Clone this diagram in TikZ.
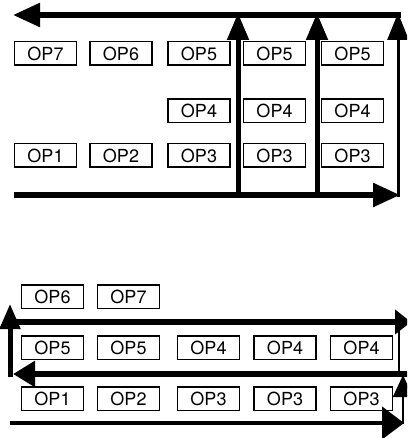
\documentclass[tikz,border=0pt]{standalone}
\usepackage{fontspec}
\setmainfont{TeX Gyre Heros}
\usetikzlibrary{arrows.meta}
\begin{document}
\begin{tikzpicture}[x=1pt,y=-1pt,
  opbox/.style={draw, line width=1.5pt, minimum width=62pt, minimum height=23.5pt, inner sep=0pt, font=\fontsize{18}{18}\selectfont},
  flow/.style={line width=5.5pt, -{Triangle[length=27pt,width=23pt]}},
  upflow/.style={line width=5pt, -{Triangle[length=27pt,width=21pt]}},
  thinline/.style={line width=1.8pt}]
\clip (0,0) rectangle (407,438);
% ---------- top diagram ----------
\node[opbox] (a7) at (45.5,53.5) {OP7};
\node[opbox] (a6) at (121,53.5) {OP6};
\node[opbox] (a5a) at (199,53.5) {OP5};
\node[opbox] (a5b) at (274.5,53.5) {OP5};
\node[opbox] (a5c) at (352.5,53.5) {OP5};
\node[opbox] (a4a) at (199,111) {OP4};
\node[opbox] (a4b) at (274.5,111) {OP4};
\node[opbox] (a4c) at (352.5,111) {OP4};
\node[opbox] (a1) at (45.5,155.5) {OP1};
\node[opbox] (a2) at (121,155.5) {OP2};
\node[opbox] (a3a) at (199,155.5) {OP3};
\node[opbox] (a3b) at (274.5,155.5) {OP3};
\node[opbox] (a3c) at (352.5,155.5) {OP3};
\coordinate (tR) at (401,15);
\coordinate (tL) at (13,15);
\coordinate (bL) at (14,195);
\coordinate (bR) at (400,195);
\coordinate (v1b) at (238,195);
\coordinate (v1t) at (238,13);
\coordinate (v2b) at (317,195);
\coordinate (v2t) at (317,13);
\coordinate (v3b) at (398,197);
\coordinate (v3t) at (398,13);
\draw[flow] (tR) -- (tL);
\draw[flow] (bL) -- (bR);
\draw[upflow] (v1b) -- (v1t);
\draw[upflow] (v2b) -- (v2t);
\draw[upflow, line width=3pt] (v3b) -- (v3t);
% ---------- bottom diagram ----------
\node[opbox] (c6) at (52.5,296.5) {OP6};
\node[opbox] (c7) at (128.5,296.5) {OP7};
\node[opbox] (d5a) at (52.5,347.5) {OP5};
\node[opbox] (d5b) at (128.5,347.5) {OP5};
\node[opbox] (d4a) at (208.5,347.5) {OP4};
\node[opbox] (d4b) at (285,347.5) {OP4};
\node[opbox] (d4c) at (361.5,347.5) {OP4};
\node[opbox] (e1) at (52.5,398.5) {OP1};
\node[opbox] (e2) at (128.5,398.5) {OP2};
\node[opbox] (e3a) at (208.5,398.5) {OP3};
\node[opbox] (e3b) at (285,398.5) {OP3};
\node[opbox] (e3c) at (361.5,398.5) {OP3};
\coordinate (uL) at (10,322);
\coordinate (uR) at (411,322);
\coordinate (mR) at (410,374);
\coordinate (mL) at (13,374);
\coordinate (lvb) at (10,376.5);
\coordinate (lvt) at (10,304);
\coordinate (lL) at (10,423);
\coordinate (lR) at (404,423);
\coordinate (rvb) at (403,424);
\coordinate (rvt) at (403,375);
\coordinate (rtt) at (399,322);
\coordinate (rtb) at (399,373);
\draw[line width=5.5pt, -{Triangle[length=16pt,width=24pt]}] (uL) -- (uR);
\draw[line width=5.5pt, -{Triangle[length=22pt,width=25pt]}] (mR) -- (mL);
\draw[line width=5pt, -{Triangle[length=25pt,width=20pt]}] (lvb) -- (lvt);
\draw[line width=4.5pt, -{Triangle[length=22pt,width=32pt]}] (lL) -- (lR);
\draw[thinline, -{Triangle[length=22pt,width=20pt]}] (rvb) -- (rvt);
\draw[thinline] (rtt) -- (rtb);
\end{tikzpicture}
\end{document}
